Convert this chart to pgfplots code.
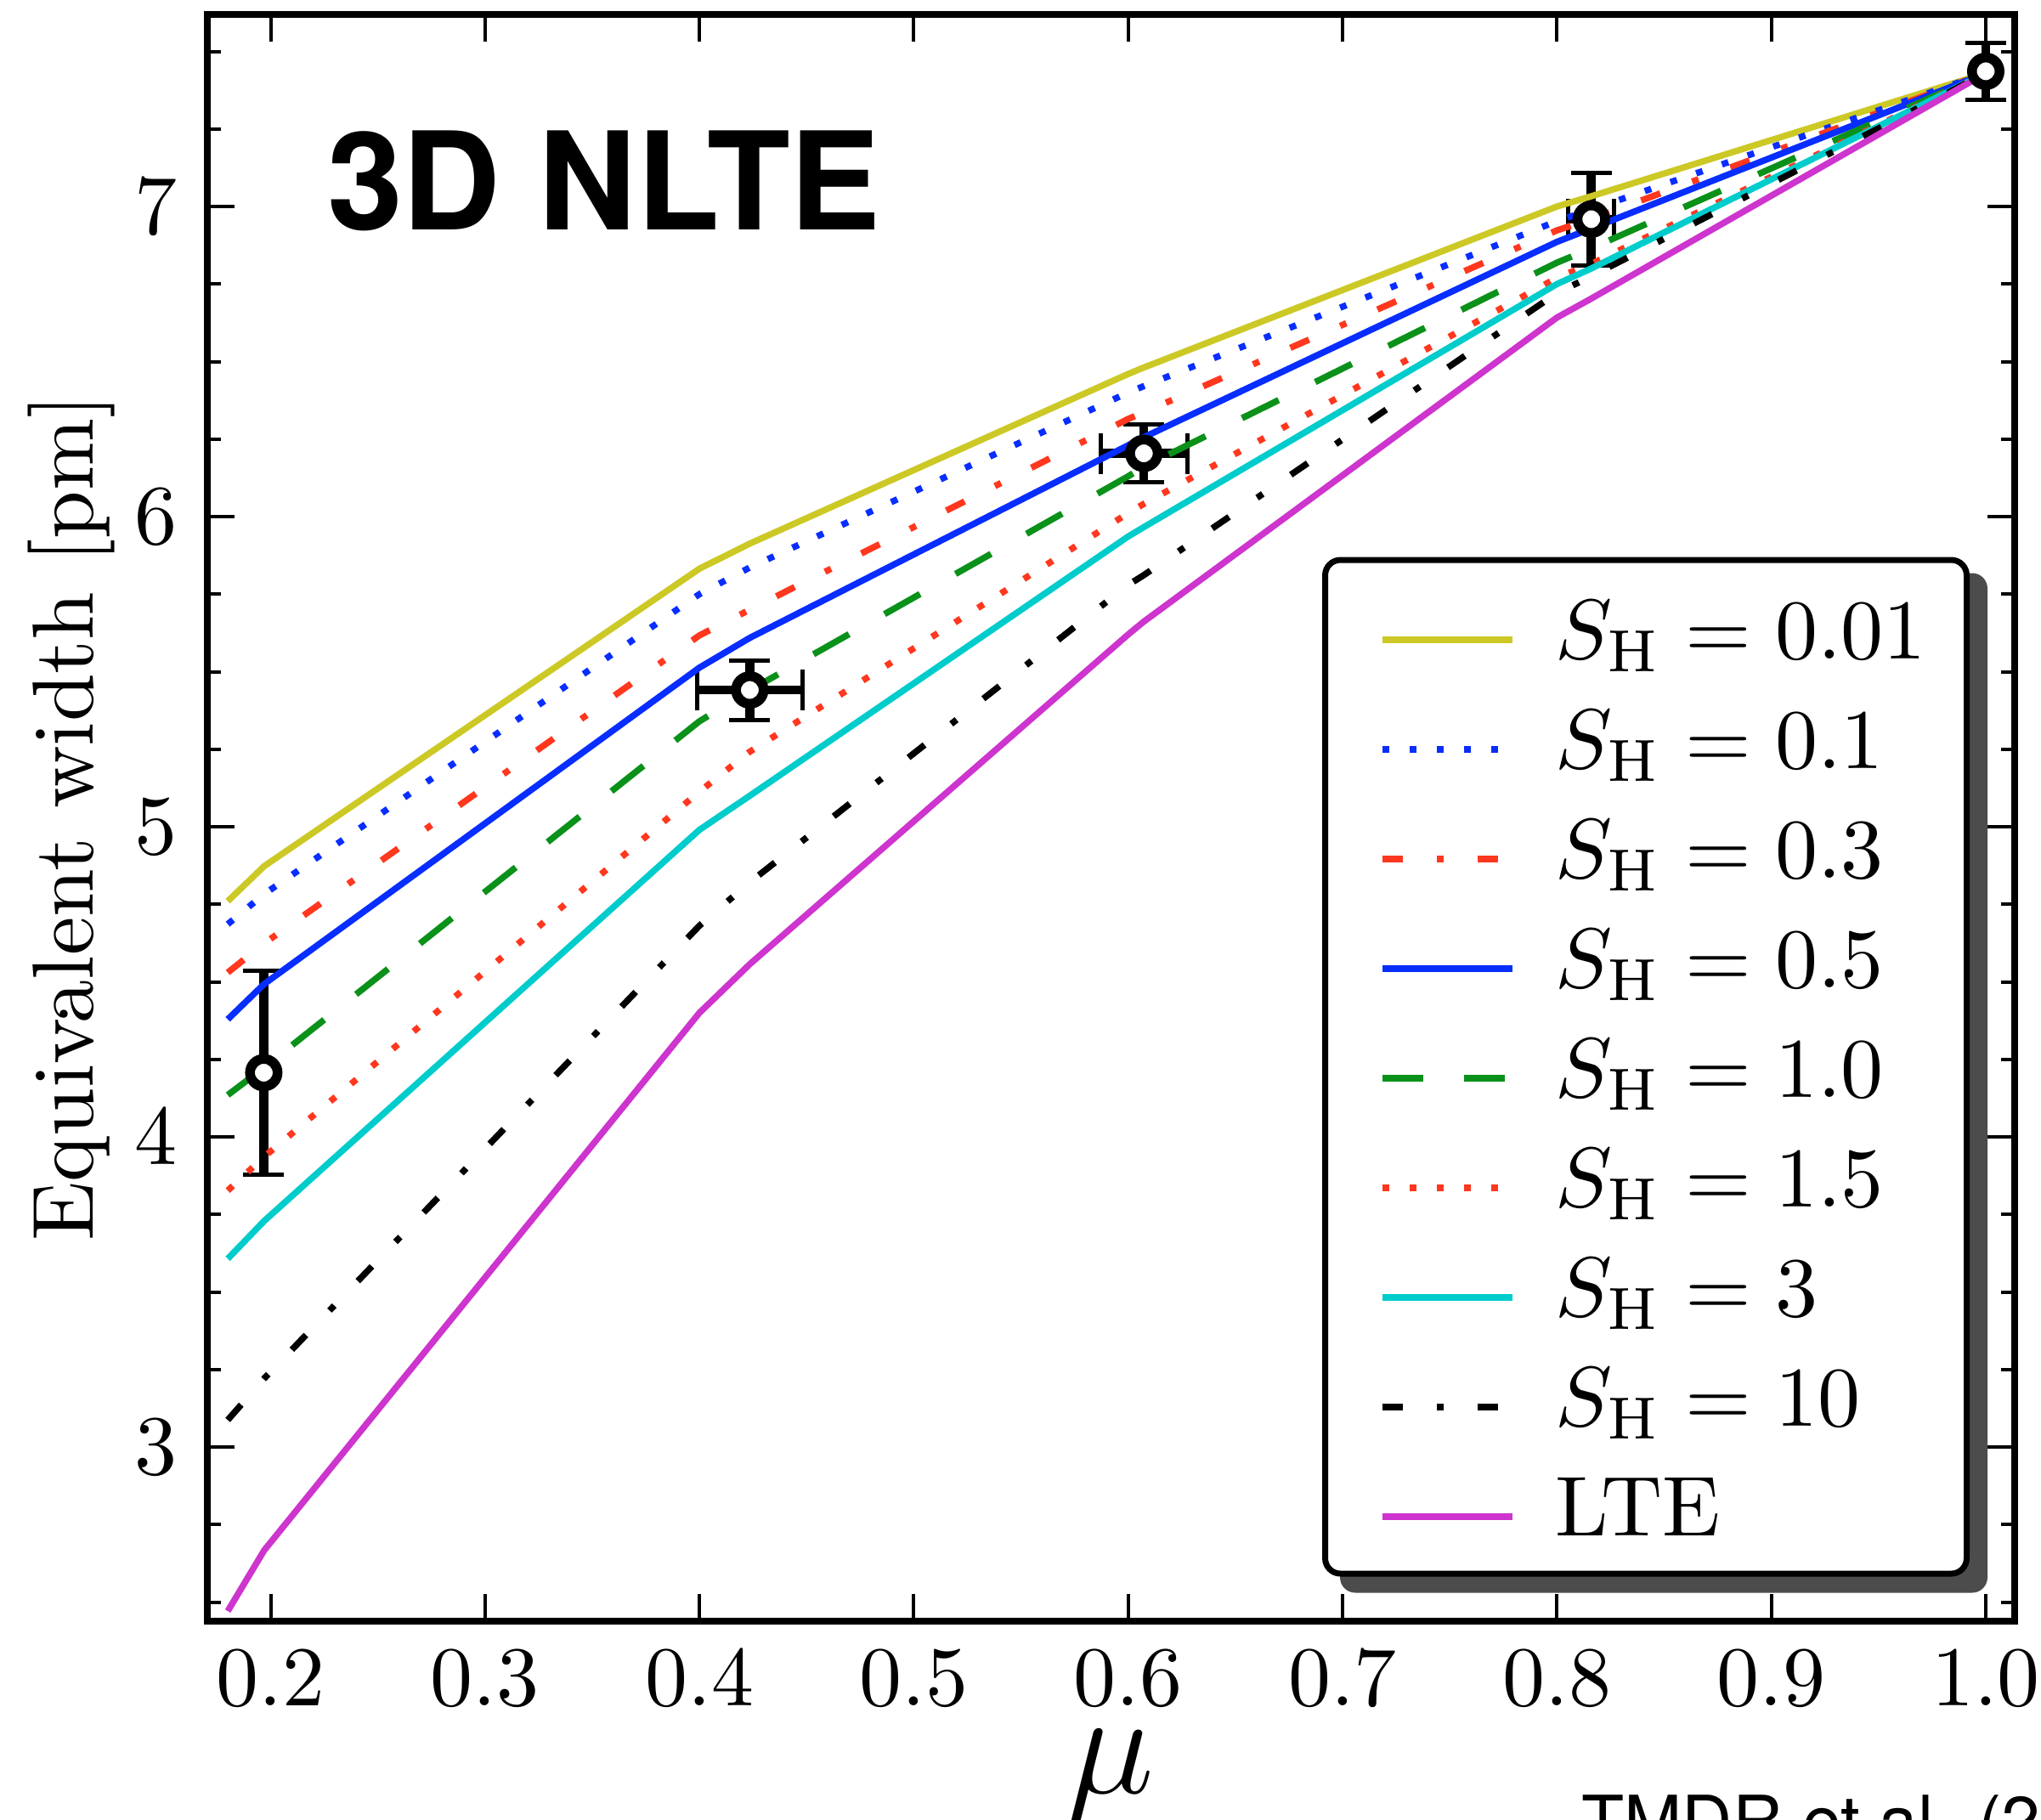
\documentclass[border=0pt]{standalone}
\usepackage{fontspec}
\usepackage{pgfplots}
\pgfplotsset{compat=1.18}
\newfontfamily\heros{TeX Gyre Heros}
\pgfdeclarelayer{background}
\pgfsetlayers{background,main}

\definecolor{cY}{RGB}{204,201,38}
\definecolor{cB}{RGB}{8,45,255}
\definecolor{cR}{RGB}{255,55,30}
\definecolor{cG}{RGB}{10,145,25}
\definecolor{cC}{RGB}{0,204,204}
\definecolor{cM}{RGB}{206,52,206}

\tikzset{
  mpldotted/.style={dash pattern=on 0.8pt off 2.4pt},
  mpldashdot/.style={dash pattern=on 2.4pt off 4.0pt on 0.8pt off 4.0pt},
  mpldashed/.style={dash pattern=on 4.8pt off 4.8pt},
}

\begin{document}
\begin{tikzpicture}
\path[use as bounding box] (-24.35pt,-23.35pt) rectangle (215.85pt,190.75pt);
\begin{axis}[
  at={(0pt,0pt)}, anchor=south west,
  scale only axis, width=212.7pt, height=189pt,
  xmin=0.17027, xmax=1.0133, ymin=2.4397, ymax=7.618,
  xtick={0.2,0.3,0.4,0.5,0.6,0.7,0.8,0.9,1.0},
  xticklabels={$0.2$,$0.3$,$0.4$,$0.5$,$0.6$,$0.7$,$0.8$,$0.9$,$1.0$},
  ytick={3,4,5,6,7},
  minor ytick={2.5,2.75,3.25,3.5,3.75,4.25,4.5,4.75,5.25,5.5,5.75,6.25,6.5,6.75,7.25,7.5},
  major tick length=3.2pt, minor tick length=1.6pt,
  every tick/.style={black, line width=0.4pt},
  axis line style={line width=0.8pt},
  tick label style={font=\fontsize{10}{12}\selectfont},
  every axis x label/.style={at={(axis description cs:0.5,-0.1074)}, anchor=base},
  every axis y label/.style={at={(axis description cs:-0.063,0.5)}, rotate=90, anchor=base},
  xlabel={\fontsize{16}{16}\selectfont$\mu$},
  ylabel={\fontsize{10.2}{12}\selectfont Equivalent width [pm]},
  legend cell align=left,
  legend style={
    name=leg,
    at={(0.9753,0.0275)}, anchor=south east,
    draw=black, line width=0.7pt, rounded corners=1.8pt, fill=white,
    inner xsep=4.75pt, inner ysep=3.3pt,
    font=\fontsize{10}{12}\selectfont,
    row sep=3.4pt,
    nodes={inner sep=0pt, text height=8.3pt, text depth=1.2pt},
    /tikz/every odd column/.append style={column sep=4.7pt},
  },
  legend image code/.code={\path (0pt,0pt); \draw[#1,sharp corners] (1.6pt,-1.35pt) -- (16.9pt,-1.35pt);},
]
% error bars (drawn beneath the curves)
\addplot[forget plot, only marks, mark=none,
  error bars/.cd, x dir=both, x explicit, y dir=both, y explicit,
  error bar style={draw=black, line width=1.05pt},
  error mark options={rotate=90, mark size=2.4pt, line width=0.5pt, draw=black}]
  coordinates {(0.4235,5.441) +- (0.0247,0.096) (0.6073,6.204) +- (0.0202,0.094) (0.816,6.959) +- (0.0107,0.15)};
\addplot[forget plot, only marks, mark=none,
  error bars/.cd, y dir=both, y explicit,
  error bar style={draw=black, line width=1.05pt},
  error mark options={rotate=90, mark size=2.4pt, line width=0.5pt, draw=black}]
  coordinates {(0.1968,4.207) +- (0,0.33) (1.0,7.436) +- (0,0.092)};

\addplot[cY, line width=0.75pt] coordinates {
 (0.18,4.760) (0.197,4.873) (0.4,5.832) (0.4235,5.913) (0.6,6.460) (0.607,6.480) (0.8,7.000) (0.816,7.033) (1.0,7.430)};
\addlegendentry{$S_\mathrm{H} = 0.01$}
\addplot[cB, line width=0.75pt, mpldotted] coordinates {
 (0.18,4.686) (0.197,4.783) (0.4,5.750) (0.4235,5.836) (0.6,6.400) (0.607,6.420) (0.8,6.953) (0.816,6.990) (1.0,7.430)};
\addlegendentry{$S_\mathrm{H} = 0.1$}
\addplot[cR, line width=0.75pt, mpldashdot] coordinates {
 (0.18,4.530) (0.197,4.624) (0.4,5.617) (0.4235,5.700) (0.6,6.315) (0.607,6.335) (0.8,6.923) (0.816,6.960) (1.0,7.430)};
\addlegendentry{$S_\mathrm{H} = 0.3$}
\addplot[cB, line width=0.75pt] coordinates {
 (0.18,4.379) (0.197,4.493) (0.4,5.513) (0.4235,5.609) (0.6,6.230) (0.607,6.255) (0.8,6.886) (0.816,6.929) (1.0,7.430)};
\addlegendentry{$S_\mathrm{H} = 0.5$}
\addplot[cG, line width=0.75pt, mpldashed] coordinates {
 (0.18,4.135) (0.197,4.224) (0.4,5.340) (0.4235,5.440) (0.6,6.130) (0.607,6.160) (0.8,6.819) (0.816,6.865) (1.0,7.430)};
\addlegendentry{$S_\mathrm{H} = 1.0$}
\addplot[cR, line width=0.75pt, mpldotted] coordinates {
 (0.18,3.827) (0.197,3.936) (0.4,5.113) (0.4235,5.242) (0.6,6.011) (0.607,6.040) (0.8,6.770) (0.816,6.815) (1.0,7.430)};
\addlegendentry{$S_\mathrm{H} = 1.5$}
\addplot[cC, line width=0.75pt] coordinates {
 (0.18,3.607) (0.197,3.729) (0.4,4.990) (0.4235,5.100) (0.6,5.936) (0.607,5.965) (0.8,6.750) (0.816,6.800) (1.0,7.430)};
\addlegendentry{$S_\mathrm{H} = 3$}
\addplot[black, line width=0.75pt, mpldashdot] coordinates {
 (0.18,3.087) (0.197,3.221) (0.4,4.681) (0.4235,4.821) (0.6,5.780) (0.607,5.810) (0.8,6.721) (0.816,6.775) (1.0,7.430)};
\addlegendentry{$S_\mathrm{H} = 10$}
\addplot[cM, line width=0.75pt] coordinates {
 (0.18,2.471) (0.197,2.667) (0.4,4.400) (0.4235,4.557) (0.6,5.620) (0.607,5.660) (0.8,6.642) (0.816,6.703) (1.0,7.430)};
\addlegendentry{LTE}

% data point markers (on top)
\addplot[forget plot, only marks, mark=*, mark size=1.4pt,
  mark options={fill=white, draw=black, line width=0.7pt}]
  coordinates {(0.1968,4.207) (0.4235,5.441) (0.6073,6.204) (0.816,6.959) (1.0,7.436)};
\end{axis}
\begin{pgfonlayer}{background}
\fill[black!70, rounded corners=1.8pt] ([xshift=2.1pt,yshift=-1.9pt]leg.south west) rectangle ([xshift=2.1pt,yshift=-1.9pt]leg.north east);
\end{pgfonlayer}
\node[anchor=base west, inner sep=0pt, font=\heros\bfseries\fontsize{16}{16}\selectfont] at (13.95pt,163.65pt) {3D NLTE};
\node[anchor=base west, inner sep=0pt, font=\heros\fontsize{8.2}{8.2}\selectfont] at (161.6pt,-26.45pt) {TMDR et al. (20};
\end{tikzpicture}
\end{document}
